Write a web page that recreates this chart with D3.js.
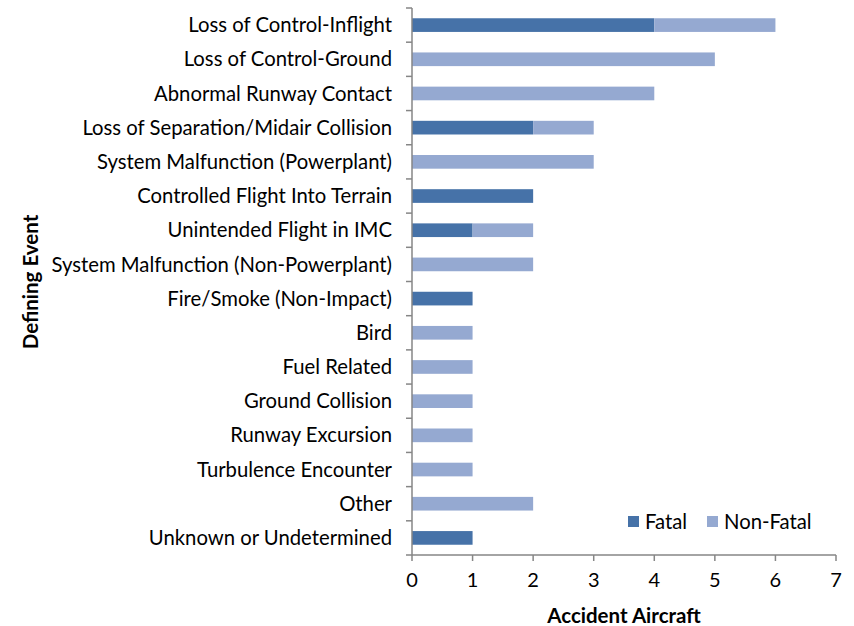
<!DOCTYPE html>
<html>
<head>
<meta charset="utf-8">
<script src="https://cdn.jsdelivr.net/npm/d3@7"></script>
<style>
	body { margin: 0; background: #fff; }
	text { font-family: Lato, "Open Sans", sans-serif; fill: #000; }
</style>
</head>
<body>
<div id="chart"></div>
<script>
const categories = [
	'Loss of Control-Inflight',
	'Loss of Control-Ground',
	'Abnormal Runway Contact',
	'Loss of Separation/Midair Collision',
	'System Malfunction (Powerplant)',
	'Controlled Flight Into Terrain',
	'Unintended Flight in IMC',
	'System Malfunction (Non-Powerplant)',
	'Fire/Smoke (Non-Impact)',
	'Bird',
	'Fuel Related',
	'Ground Collision',
	'Runway Excursion',
	'Turbulence Encounter',
	'Other',
	'Unknown or Undetermined'
];
const fatal    = [4, 0, 0, 2, 0, 2, 1, 0, 1, 0, 0, 0, 0, 0, 0, 1];
const nonFatal = [2, 5, 4, 1, 3, 0, 1, 2, 0, 1, 1, 1, 1, 1, 2, 0];
const seriesNames = ['Fatal', 'Non-Fatal'];
const xTicks = [0, 1, 2, 3, 4, 5, 6, 7];

const width  = 854,
	height = 626,
	margin = {top: 8, right: 18, bottom: 71, left: 412},
	colors = {'Fatal': '#4672a8', 'Non-Fatal': '#95a9d1'},
	axisColor = '#868686';

const rows = categories.map((c, i) => ({cat: c, 'Fatal': fatal[i], 'Non-Fatal': nonFatal[i]}));
const stacked = d3.stack().keys(seriesNames)(rows);

const x = d3.scaleLinear().domain([0, 7]).range([margin.left, width - margin.right]);
const y = d3.scaleBand().domain(categories).range([margin.top, height - margin.bottom]).paddingInner(0.6).paddingOuter(0.3);

const svg = d3.select('#chart').append('svg')
	.attr('width', width)
	.attr('height', height);

// bars
svg.append('g').selectAll('g')
	.data(stacked).enter().append('g')
	.style('fill', d => colors[d.key])
	.selectAll('rect')
	.data(d => d.filter(s => s[1] - s[0] > 0)).enter().append('rect')
	.attr('x', d => x(d[0]))
	.attr('width', d => x(d[1]) - x(d[0]))
	.attr('y', d => y(d.data.cat))
	.attr('height', y.bandwidth());

// y axis (line + ticks between categories)
const yStep = y.step();
const yAxis = svg.append('g');
yAxis.append('line')
	.attr('x1', margin.left).attr('x2', margin.left)
	.attr('y1', margin.top).attr('y2', height - margin.bottom)
	.style('stroke', axisColor).style('stroke-width', 1.5);
yAxis.selectAll('.ytick')
	.data(d3.range(categories.length + 1)).enter().append('line')
	.attr('x1', margin.left - 6).attr('x2', margin.left)
	.attr('y1', i => margin.top + i * yStep)
	.attr('y2', i => margin.top + i * yStep)
	.style('stroke', axisColor).style('stroke-width', 1.5);
yAxis.selectAll('.ylabel')
	.data(categories).enter().append('text')
	.attr('x', margin.left - 20)
	.attr('y', d => y(d) + y.bandwidth() / 2)
	.attr('dy', '0.35em')
	.attr('text-anchor', 'end')
	.style('font-size', '20.3px')
	.text(d => d);

// x axis
const xAxis = svg.append('g').attr('transform', `translate(0, ${height - margin.bottom})`);
xAxis.append('line')
	.attr('x1', margin.left).attr('x2', width - margin.right)
	.style('stroke', axisColor).style('stroke-width', 1.5);
xAxis.selectAll('.xtick')
	.data(xTicks).enter().append('line')
	.attr('x1', d => x(d)).attr('x2', d => x(d))
	.attr('y1', 0).attr('y2', 6)
	.style('stroke', axisColor).style('stroke-width', 1.5);
xAxis.selectAll('.xlabel')
	.data(xTicks).enter().append('text')
	.attr('x', d => x(d))
	.attr('y', 25)
	.attr('dy', '0.35em')
	.attr('text-anchor', 'middle')
	.style('font-size', '20px')
	.text(d => d);

// axis titles
svg.append('text')
	.attr('x', (margin.left + width - margin.right) / 2)
	.attr('y', 616)
	.attr('dy', '0.35em')
	.attr('text-anchor', 'middle')
	.style('font-size', '20.5px')
	.style('font-weight', 'bold')
	.text('Accident Aircraft');
svg.append('text')
	.attr('transform', 'translate(31, 282) rotate(-90)')
	.attr('dy', '0.35em')
	.attr('text-anchor', 'middle')
	.style('font-size', '20.5px')
	.style('font-weight', 'bold')
	.text('Defining Event');

// legend
const legend = svg.append('g').attr('transform', 'translate(628, 522)');
const legendX = [0, 79];
const lg = legend.selectAll('g')
	.data(seriesNames).enter().append('g')
	.attr('transform', (d, i) => `translate(${legendX[i]}, 0)`);
lg.append('rect')
	.attr('x', 0).attr('y', -6)
	.attr('width', 11).attr('height', 11)
	.style('fill', d => colors[d]);
lg.append('text')
	.attr('x', 17)
	.attr('dy', '0.35em')
	.style('font-size', '20.3px')
	.text(d => d);
</script>
</body>
</html>
